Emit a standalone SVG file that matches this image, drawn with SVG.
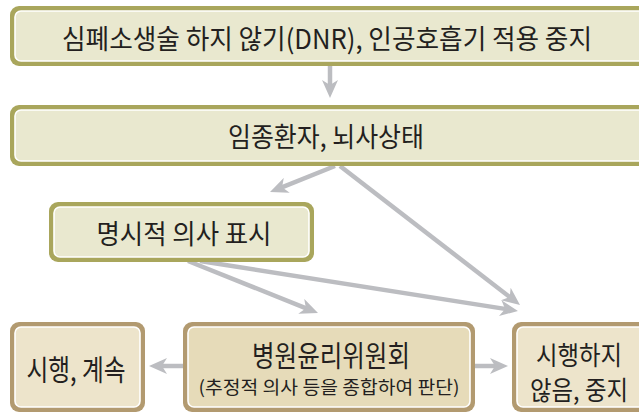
<svg xmlns="http://www.w3.org/2000/svg" width="639" height="412" viewBox="0 0 639 412">
<style>
.ob{fill:#a9a65c}
.tb{fill:#b29a70}
.oi{fill:#e9e8cf;stroke:#ffffff;stroke-width:1.6}
.ti{fill:#ede4cb;stroke:#ffffff;stroke-width:1.6}
.ci{fill:#e6dbb9;stroke:#ffffff;stroke-width:1.6}
text{font-family:"Noto Sans CJK KR","Noto Sans",sans-serif;fill:#231f20;text-anchor:middle;dominant-baseline:central;font-weight:400}
.t1{font-size:27px}
.t2{font-size:29px}
.t4{font-size:26px}
.t3{font-size:18px}
.con{stroke:#bcbdc1;stroke-width:4.5;fill:none;marker-end:url(#ah)}
</style>
<defs>
<marker id="ah" viewBox="0 -8 18 16" markerWidth="18" markerHeight="16" refX="8" refY="0" orient="auto" markerUnits="userSpaceOnUse">
<path d="M0,-8 L18,0 L0,8 L5,0 z" fill="#bcbdc1"/>
</marker>
</defs>
<g id="connectors">
<line class="con" x1="330" y1="66" x2="330" y2="88"/>
<line class="con" x1="335" y1="166" x2="279.3" y2="188.3"/>
<line class="con" x1="340" y1="166" x2="512.1" y2="298.9"/>
<line class="con" x1="188" y1="261" x2="308.7" y2="309.3"/>
<line class="con" x1="200" y1="261" x2="508.1" y2="309.4"/>
<line class="con" x1="184" y1="366" x2="159" y2="366"/>
<line class="con" x1="474" y1="366" x2="498" y2="366"/>
</g>
<g id="n1">
<rect class="ob" x="10" y="6" width="640" height="60" rx="9"/>
<rect class="oi" x="15" y="11" width="630" height="50" rx="6"/>
<text class="t1" x="327" y="37" textLength="530" lengthAdjust="spacingAndGlyphs">심폐소생술 하지 않기(DNR), 인공호흡기 적용 중지</text>
</g>
<g id="n2">
<rect class="ob" x="10" y="105" width="640" height="61" rx="9"/>
<rect class="oi" x="15" y="110" width="630" height="51" rx="6"/>
<text class="t1" x="326" y="135" textLength="196" lengthAdjust="spacingAndGlyphs">임종환자, 뇌사상태</text>
</g>
<g id="n3">
<rect class="ob" x="49" y="202" width="265" height="60" rx="9"/>
<rect class="oi" x="54" y="207" width="255" height="50" rx="6"/>
<text class="t1" x="184" y="232" textLength="175" lengthAdjust="spacingAndGlyphs">명시적 의사 표시</text>
</g>
<g id="n4">
<rect class="tb" x="10" y="322" width="135" height="90" rx="9"/>
<rect class="ti" x="15" y="327" width="125" height="80" rx="6"/>
<text class="t2" x="76" y="368" textLength="99" lengthAdjust="spacingAndGlyphs">시행, 계속</text>
</g>
<g id="n5">
<rect class="tb" x="183" y="322" width="292" height="90" rx="9"/>
<rect class="ci" x="188" y="327" width="282" height="80" rx="6"/>
<text class="t2" x="331" y="354" textLength="158" lengthAdjust="spacingAndGlyphs">병원윤리위원회</text>
<text class="t3" x="329" y="386" textLength="261" lengthAdjust="spacingAndGlyphs">(추정적 의사 등을 종합하여 판단)</text>
</g>
<g id="n6">
<rect class="tb" x="512" y="322" width="140" height="90" rx="9"/>
<rect class="ti" x="517" y="327" width="130" height="80" rx="6"/>
<text class="t4" x="579" y="353" textLength="86" lengthAdjust="spacingAndGlyphs">시행하지</text>
<text class="t4" x="579" y="388" textLength="98" lengthAdjust="spacingAndGlyphs">않음, 중지</text>
</g>
</svg>
